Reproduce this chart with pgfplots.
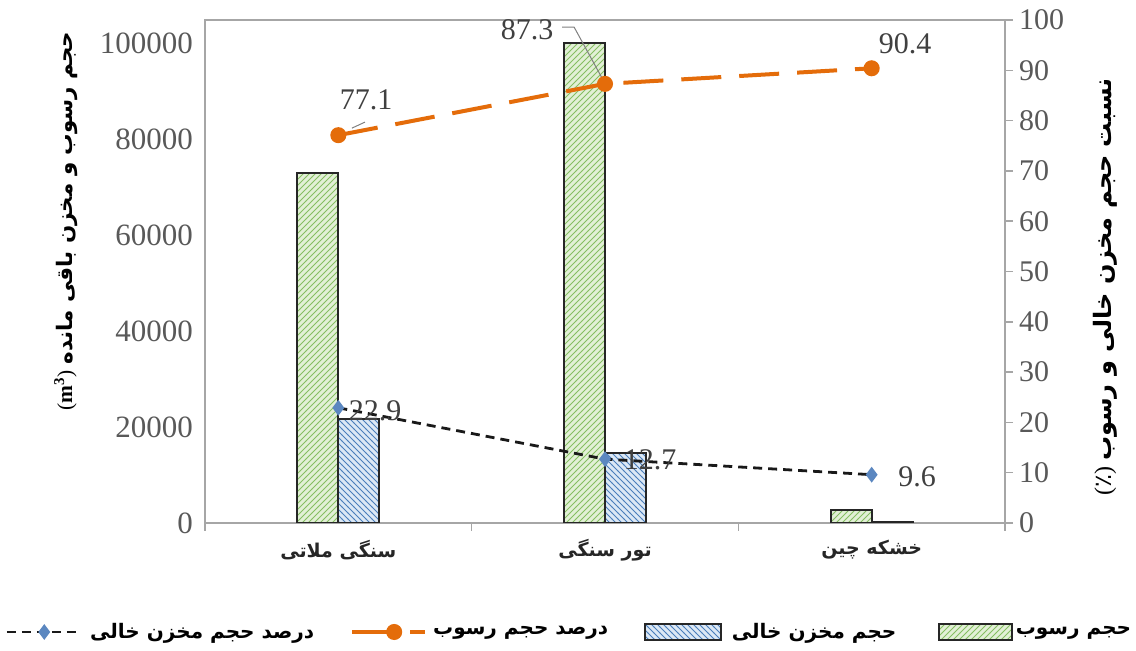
\documentclass[border=0pt]{standalone}
\usepackage{fontspec}
\setmainfont{Liberation Serif}
\newfontfamily\fa[Script=Arabic]{DejaVu Sans}
\TeXXeTstate=1
\usepackage{pgfplots}
\pgfplotsset{compat=1.18}
\usetikzlibrary{patterns}
\definecolor{orng}{HTML}{E46C0A}
\definecolor{dmd}{HTML}{5B87C0}
\definecolor{gfill}{HTML}{E2F0D6}
\definecolor{ghatch}{HTML}{86BE62}
\definecolor{bfill}{HTML}{DCE8F5}
\definecolor{bhatch}{HTML}{4A7EBB}
\definecolor{axgray}{HTML}{A6A6A6}
\definecolor{txt}{HTML}{404040}
\definecolor{tickc}{HTML}{595959}
\pgfplotsset{
  blackleg/.style={legend image code/.code={\draw[mark repeat=2,mark phase=2,##1] plot coordinates {(0pt,0pt) (18.75pt,0pt) (37.5pt,0pt)};}},
  orangeleg/.style={legend image code/.code={\draw[mark repeat=2,mark phase=2,##1] plot coordinates {(0pt,0pt) (21pt,0pt) (36.5pt,0pt)};}},
  blueleg/.style={legend image code/.code={\draw[draw=black!85, line width=0.9pt, preaction={fill=bfill}, pattern=north west lines, pattern color=bhatch] (0pt,-4pt) rectangle (38pt,4pt);}},
  greenleg/.style={legend image code/.code={\draw[draw=black!85, line width=0.9pt, preaction={fill=gfill}, pattern=north east lines, pattern color=ghatch] (0pt,-4pt) rectangle (36.5pt,4pt);}},
}
\begin{document}
\begin{tikzpicture}
\useasboundingbox (-102.5pt,-64pt) rectangle (465.5pt,261.5pt);
\begin{axis}[
  scale only axis, width=400pt, height=251.5pt,
  at={(0,0)}, anchor=south west,
  xmin=-0.5, xmax=2.5, ymin=0, ymax=104800,
  axis line style={axgray, line width=0.75pt},
  tick style={axgray, line width=0.75pt},
  tick align=outside,
  xtick={0,1,2},
  xticklabels={{\fa\bfseries\beginR سنگی ملاتی\endR},{\fa\bfseries\beginR تور سنگی\endR},{\fa\bfseries\beginR خشکه چین\endR}},
  minor xtick={-0.5,0.5,1.5,2.5},
  major tick length=0pt, minor tick length=4pt,
  xtick pos=bottom, ytick pos=left,
  ytick={0,20000,40000,60000,80000,100000},
  scaled y ticks=false,
  /pgf/number format/assume math mode=true,
  /pgf/number format/fixed,
  /pgf/number format/1000 sep={},
  yticklabel style={font=\fontsize{15.5}{17}\selectfont, text=tickc, xshift=-2.5pt},
  xticklabel style={font=\fontsize{9.5}{11}\selectfont, text=black!85, anchor=center, yshift=-13.5pt},
  ylabel={(\textbf{m}\textsuperscript{\textbf{3}}) {\fa\bfseries\beginR حجم رسوب و مخزن باقی مانده\endR}},
  ylabel style={at={(axis description cs:-0.174,0.6)}, anchor=center, font=\fontsize{10.7}{12}\selectfont},
  legend columns=4,
  legend style={at={(-0.25,-0.2167)}, anchor=west, draw=none, fill=none, inner sep=0pt, column sep=0pt,
    nodes={inner sep=0pt, anchor=west}, font=\fontsize{10}{12}\selectfont\bfseries},
]
\addlegendimage{blackleg, black!90, line width=1.4pt, dash pattern=on 4.5pt off 3pt, mark=diamond*, mark size=2.8pt,
  mark options={solid, fill=dmd, draw=dmd}}
\addlegendentry{\makebox[133.5pt][l]{\hspace{3.5pt}\fa\beginR درصد حجم مخزن خالی\endR}}
\addlegendimage{orangeleg, orng, line width=2pt, dash pattern=on 19pt off 10pt, mark=*, mark size=3pt,
  mark options={solid, fill=orng}}
\addlegendentry{\makebox[108.5pt][l]{\hspace{3pt}\fa\beginR درصد حجم رسوب\endR}}
\addlegendimage{blueleg}
\addlegendentry{\makebox[108pt][l]{\hspace{5pt}\fa\beginR حجم مخزن خالی\endR}}
\addlegendimage{greenleg}
\addlegendentry{\makebox[60pt][l]{\hspace{1.5pt}\fa\beginR حجم رسوب\endR}}
% green bars: sediment volume
\addplot[ybar, bar width=20.5pt, bar shift=-10.25pt, draw=black!85, line width=0.9pt,
  preaction={fill=gfill}, pattern=north east lines, pattern color=ghatch, forget plot]
  coordinates {(0,73000) (1,100000) (2,2700)};
% blue bars: empty reservoir volume
\addplot[ybar, bar width=20.5pt, bar shift=10.25pt, draw=black!85, line width=0.9pt,
  preaction={fill=bfill}, pattern=north west lines, pattern color=bhatch, forget plot]
  coordinates {(0,21600) (1,14600) (2,300)};
\end{axis}
\begin{axis}[
  scale only axis, width=400pt, height=251.5pt,
  at={(0,0)}, anchor=south west,
  xmin=-0.5, xmax=2.5, ymin=0, ymax=100,
  axis y line*=right, axis x line=none,
  axis line style={axgray, line width=0.75pt},
  tick style={axgray, line width=0.75pt},
  tick align=outside, major tick length=4pt,
  ytick={0,10,...,100},
  /pgf/number format/assume math mode=true,
  /pgf/number format/fixed,
  yticklabel style={font=\fontsize{15}{17}\selectfont, text=tickc, xshift=-0.5pt},
  ylabel={({\fa ٪}) {\fa\bfseries\beginR نسبت حجم مخزن خالی و رسوب\endR}},
  ylabel style={at={(axis description cs:1.125,0.469)}, anchor=center, rotate=0, font=\fontsize{12}{14}\selectfont},
  clip=false,
]
\addplot[black!90, line width=1.4pt, dash pattern=on 4.5pt off 3pt, mark=diamond*, mark size=2.8pt,
  mark options={solid, fill=dmd, draw=dmd}]
  coordinates {(0,22.9) (1,12.7) (2,9.6)};
\addplot[orng, line width=2pt, dash pattern=on 20pt off 9pt, mark=*, mark size=3pt,
  mark options={solid, fill=orng}]
  coordinates {(0,77.1) (1,87.3) (2,90.4)};
\draw[gray, line width=0.5pt] (axis cs:0.1,79.7) -- (axis cs:0.051,78.5);
\draw[gray, line width=0.5pt] (axis cs:0.839,98.6) -- (axis cs:0.884,98.6) -- (axis cs:0.9925,88.1);
\begin{scope}[every node/.style={font=\fontsize{15}{17}\selectfont, text=txt}]
\node at (axis cs:0.104,84.1) {77.1};
\node at (axis cs:0.7075,98.0) {87.3};
\node at (axis cs:2.125,95.2) {90.4};
\node at (axis cs:0.1375,22.3) {22.9};
\node at (axis cs:1.169,12.5) {12.7};
\node at (axis cs:2.17,9.1) {9.6};
\end{scope}
\end{axis}
\end{tikzpicture}
\end{document}
